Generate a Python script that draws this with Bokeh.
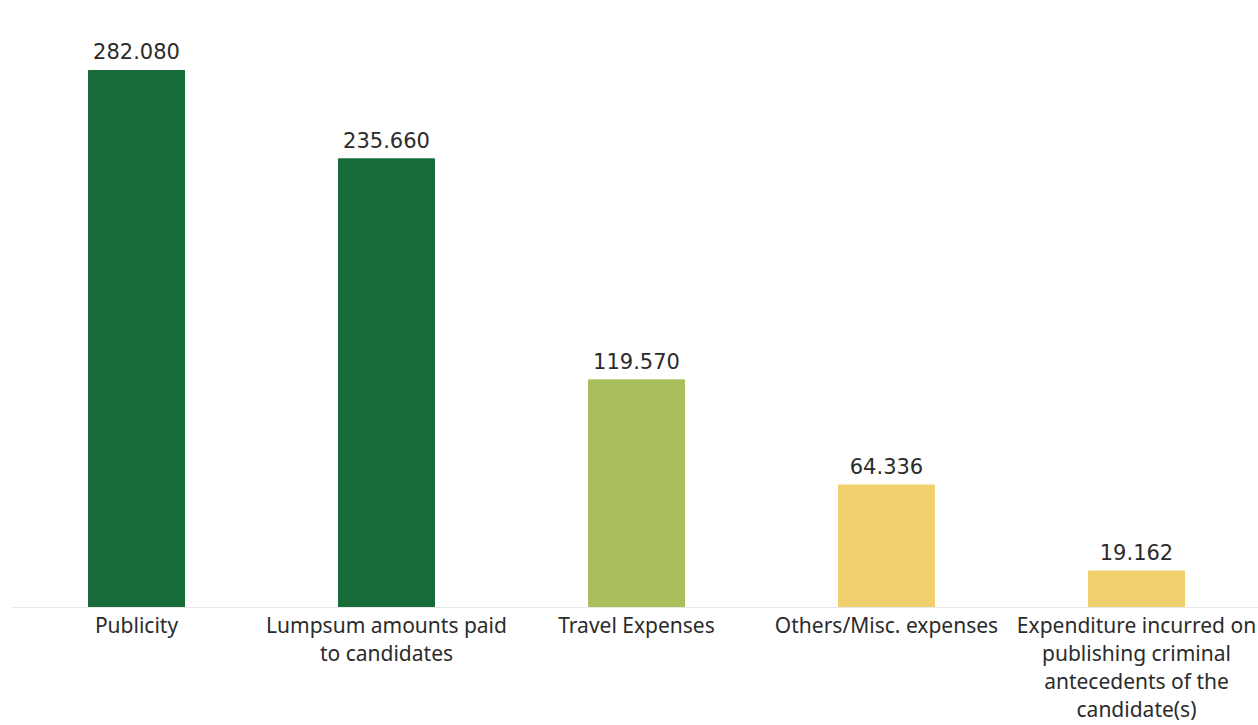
from bokeh.plotting import figure
from bokeh.models import ColumnDataSource, Range1d, FixedTicker, LabelSet
from bokeh.core.properties import value
from bokeh.embed import file_html
from bokeh.resources import INLINE

categories = [
    "Publicity",
    "Lumpsum amounts paid\nto candidates",
    "Travel Expenses",
    "Others/Misc. expenses",
    "Expenditure incurred on\npublishing criminal\nantecedents of the\ncandidate(s)",
]
values = [282.080, 235.660, 119.570, 64.336, 19.162]
value_labels = ["282.080", "235.660", "119.570", "64.336", "19.162"]
colors = ["#176b38", "#176b38", "#a8bf5c", "#f0d06c", "#f0d06c"]

xs = list(range(len(categories)))
src = ColumnDataSource(dict(x=xs, top=values, color=colors, lab=value_labels))

p = figure(width=1258, height=725, output_backend="svg", toolbar_location=None,
           x_range=Range1d(-0.5, 4.488), y_range=Range1d(0, 318.85),
           y_axis_location=None, min_border_left=11, min_border_right=0,
           min_border_top=0, min_border_bottom=118)
p.outline_line_color = None
p.xgrid.visible = False
p.ygrid.visible = False
p.background_fill_color = "white"
p.border_fill_color = "white"

p.vbar(x="x", top="top", bottom=0, width=0.384, color="color", source=src)

labels = LabelSet(x="x", y="top", text="lab", source=src, text_align="center",
                  text_baseline="alphabetic", y_offset=11,
                  text_font=value("DejaVu Sans"), text_font_size="21px",
                  text_color="#2b2b2b")
p.add_layout(labels)

ax = p.xaxis[0]
ax.ticker = FixedTicker(ticks=xs)
ax.major_label_overrides = {i: c for i, c in zip(xs, categories)}
ax.major_tick_line_color = None
ax.minor_tick_line_color = None
ax.major_tick_out = 0
ax.axis_line_color = "#e8e8e8"
ax.major_label_standoff = 3
ax.major_label_text_font = "Noto Sans"
ax.major_label_text_font_size = "21px"
ax.major_label_text_line_height = 1.0
ax.major_label_text_color = "#2b2b2b"
ax.major_label_text_align = "center"

open("out.html", "w").write(file_html(p, INLINE))
